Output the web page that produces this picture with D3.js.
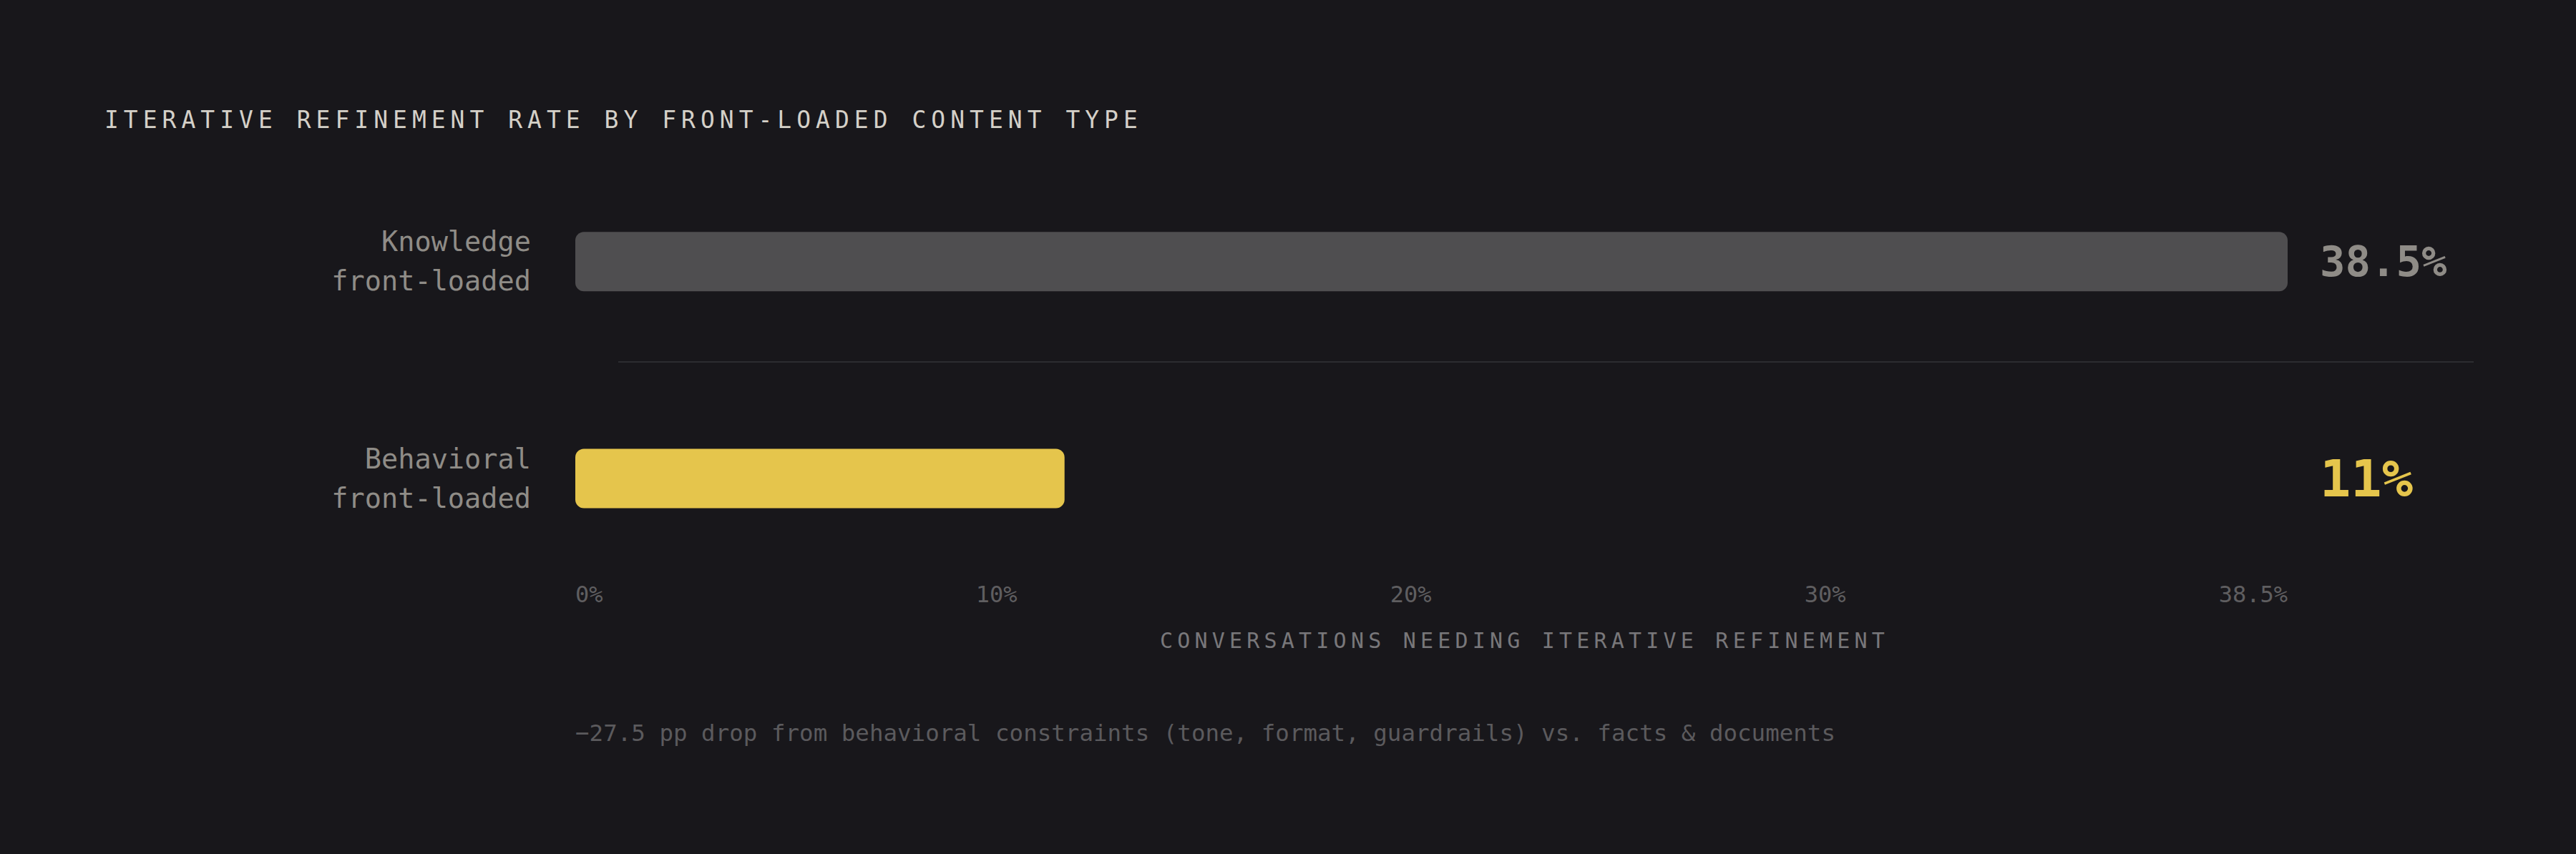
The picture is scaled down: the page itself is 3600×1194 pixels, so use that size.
<!DOCTYPE html>
<html>
<head>
<meta charset="utf-8">
<script src="https://cdn.jsdelivr.net/npm/d3@7"></script>
<style>
  html, body { margin: 0; padding: 0; background: #18171b; }
  svg { display: block; }
</style>
</head>
<body>
<svg id="chart" width="3600" height="1194"></svg>
<script>
// ---- data ----
const categories = ["Knowledge front-loaded", "Behavioral front-loaded"];
const categoryLines = [["Knowledge", "front-loaded"], ["Behavioral", "front-loaded"]];
const values = [38.5, 11];
const valueLabels = ["38.5%", "11%"];
const tickLabels = ["0%", "10%", "20%", "30%", "38.5%"];
const titleText = "ITERATIVE REFINEMENT RATE BY FRONT-LOADED CONTENT TYPE";
const axisTitle = "CONVERSATIONS NEEDING ITERATIVE REFINEMENT";
const footnote = "\u221227.5 pp drop from behavioral constraints (tone, format, guardrails) vs. facts & documents";

// ---- styles ----
const barColors = ["#4f4e50", "#e5c54c"];
const valueColors = ["#8f8c87", "#e5c54c"];
const valueSizes = [59, 72];
const MONO = "'DejaVu Sans Mono', 'Liberation Mono', monospace";

const svg = d3.select("#chart");
svg.append("rect").attr("width", 3600).attr("height", 1194).attr("fill", "#18171b");

// scales
const x = d3.scaleLinear().domain([0, d3.max(values)]).range([804, 3197]);
const y = d3.scalePoint().domain(categories).range([365.7, 669]);
const barH = 83;

// title
svg.append("text")
  .attr("x", 146).attr("y", 179)
  .attr("font-family", MONO).attr("font-size", 33)
  .attr("letter-spacing", 7)
  .attr("fill", "#d4d0c8")
  .text(titleText);

// separator
svg.append("line")
  .attr("x1", 864).attr("x2", 3457)
  .attr("y1", 506).attr("y2", 506)
  .attr("stroke", "#2c2c30").attr("stroke-width", 2);

// category labels
const lab = svg.append("g").selectAll("text").data(categories).join("text")
  .attr("x", 742)
  .attr("text-anchor", "end")
  .attr("font-family", MONO).attr("font-size", 38.6)
  .attr("fill", "#8f8c87");
lab.each(function(d, i) {
  const t = d3.select(this);
  categoryLines[i].forEach((line, j) => {
    t.append("tspan").attr("x", 742)
      .attr("y", y(d) + (j === 0 ? -14.5 : 40.5))
      .text(line);
  });
});

// bars
svg.append("g").selectAll("rect").data(categories).join("rect")
  .attr("x", x(0))
  .attr("y", d => y(d) - barH / 2)
  .attr("width", (d, i) => x(values[i]) - x(0))
  .attr("height", barH)
  .attr("rx", 12).attr("ry", 12)
  .attr("fill", (d, i) => barColors[i]);

// value labels
svg.append("g").selectAll("text").data(categories).join("text")
  .attr("x", x.range()[1] + 45)
  .attr("y", (d, i) => y(d) + valueSizes[i] * 0.729 / 2 - 1)
  .attr("font-family", MONO).attr("font-weight", "bold")
  .attr("font-size", (d, i) => valueSizes[i])
  .attr("fill", (d, i) => valueColors[i])
  .text((d, i) => valueLabels[i]);

// tick labels (spread across the bar range, space-between)
const tickG = svg.append("g");
const ticks = tickG.selectAll("text").data(tickLabels).join("text")
  .attr("y", 842)
  .attr("font-family", MONO).attr("font-size", 32)
  .attr("fill", "#5f5e60")
  .text(d => d);
const widths = [];
ticks.each(function() { widths.push(this.getComputedTextLength()); });
const [r0, r1] = x.range();
const gap = ((r1 - r0) - d3.sum(widths)) / (tickLabels.length - 1);
let cur = r0;
ticks.each(function(d, i) {
  d3.select(this).attr("x", cur);
  cur += widths[i] + gap;
});

// axis title
svg.append("text")
  .attr("x", (804 + 3457) / 2).attr("y", 906)
  .attr("text-anchor", "middle")
  .attr("font-family", MONO).attr("font-size", 30)
  .attr("letter-spacing", 6.2)
  .attr("fill", "#78777a")
  .text(axisTitle);

// footnote
svg.append("text")
  .attr("x", 804).attr("y", 1036)
  .attr("font-family", MONO).attr("font-size", 32.5)
  .attr("fill", "#5b5a5d")
  .text(footnote);
</script>
</body>
</html>
